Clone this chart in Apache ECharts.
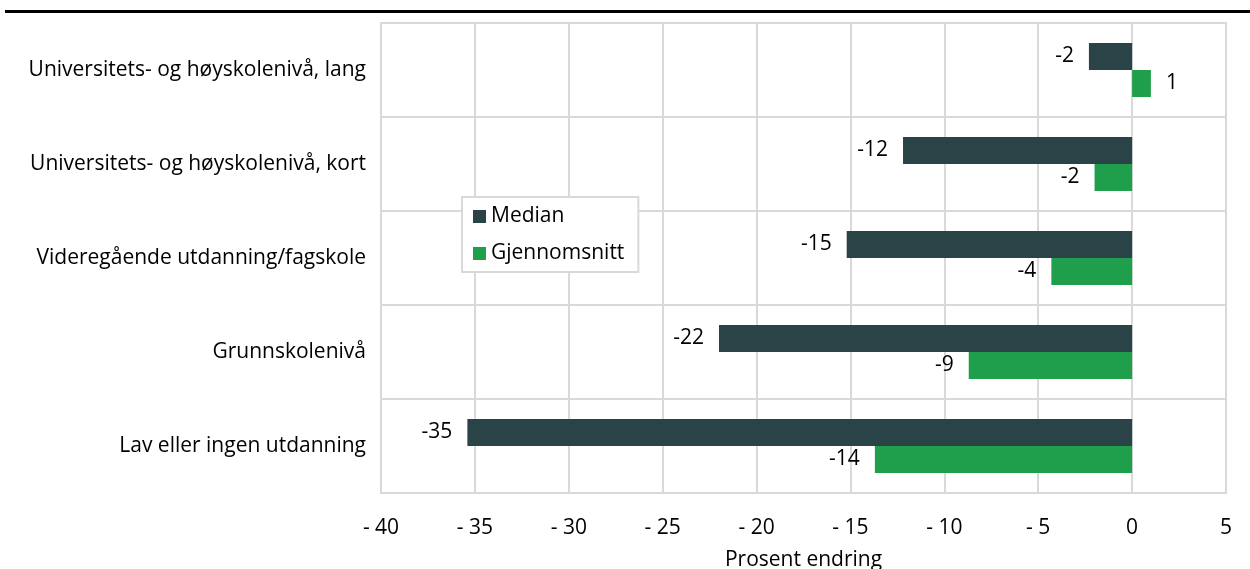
<!DOCTYPE html>
<html>
<head>
<meta charset="utf-8">
<script src="https://cdn.jsdelivr.net/npm/echarts@6/dist/echarts.min.js"></script>
<style>
  html, body { margin: 0; padding: 0; background: #ffffff; }
  #chart { width: 1250px; height: 569px; }
</style>
</head>
<body>
<div id="chart"></div>
<script>
// Education levels, top to bottom
const categories = [
  'Universitets- og høyskolenivå, lang',
  'Universitets- og høyskolenivå, kort',
  'Videregående utdanning/fagskole',
  'Grunnskolenivå',
  'Lav eller ingen utdanning'
];

// Percent change per education level
const medianValues = [-2.3, -12.2, -15.2, -22.0, -35.4];
const meanValues = [1.0, -2.0, -4.3, -8.7, -13.7];

const seriesNames = ['Median', 'Gjennomsnitt'];
const xTicks = { min: -40, max: 5, interval: 5 };
const axisTitle = 'Prosent endring';

const FONT = '"Open Sans", "Noto Sans", sans-serif';
const FONT_SIZE = 21;
const GRID_COLOR = '#d9d9d9';
const COLORS = ['#294347', '#1f9f4b'];

// Put each value label outside the bar end, on the side the bar points to
function withLabels(values) {
  return values.map(v => ({
    value: v,
    label: { position: v < 0 ? 'left' : 'right' }
  }));
}

function barSeries(name, values, color) {
  return {
    name: name,
    type: 'bar',
    data: withLabels(values),
    barWidth: 27,
    barGap: '0%',
    itemStyle: { color: color },
    label: {
      show: true,
      distance: 15,
      color: '#000000',
      fontFamily: FONT,
      fontSize: FONT_SIZE,
      formatter: p => String(Math.round(p.value))
    },
    z: 3
  };
}

const chart = echarts.init(document.getElementById('chart'), null, { renderer: 'canvas' });

chart.setOption({
  animation: false,
  backgroundColor: '#ffffff',
  textStyle: { fontFamily: FONT },
  grid: {
    left: 381, right: 24, top: 23, bottom: 76,
    show: true,
    borderColor: GRID_COLOR,
    borderWidth: 2,
    containLabel: false,
    outerBoundsMode: 'none'
  },
  legend: {
    data: seriesNames,
    orient: 'vertical',
    left: 462,
    top: 197,
    padding: [9, 14, 8, 11],
    itemGap: 16,
    itemWidth: 13,
    itemHeight: 13,
    icon: 'rect',
    backgroundColor: '#ffffff',
    borderColor: GRID_COLOR,
    borderWidth: 2,
    textStyle: { fontFamily: FONT, fontSize: FONT_SIZE, color: '#000000' }
  },
  xAxis: {
    type: 'value',
    min: xTicks.min,
    max: xTicks.max,
    interval: xTicks.interval,
    name: axisTitle,
    nameLocation: 'middle',
    nameGap: 57,
    nameTextStyle: { fontFamily: FONT, fontSize: FONT_SIZE, color: '#000000' },
    axisLine: { show: false },
    axisTick: { show: false },
    axisLabel: {
      margin: 25,
      fontFamily: FONT,
      fontSize: FONT_SIZE,
      color: '#000000',
      formatter: v => (v < 0 ? '- ' + Math.abs(v) : String(v))
    },
    splitLine: { show: true, lineStyle: { color: GRID_COLOR, width: 2 } }
  },
  yAxis: {
    type: 'category',
    data: categories,
    inverse: true,
    axisLine: { show: false },
    axisTick: { show: false },
    axisLabel: {
      margin: 15,
      fontFamily: FONT,
      fontSize: FONT_SIZE,
      color: '#000000'
    },
    splitLine: { show: true, lineStyle: { color: GRID_COLOR, width: 2 } }
  },
  series: [
    barSeries(seriesNames[0], medianValues, COLORS[0]),
    barSeries(seriesNames[1], meanValues, COLORS[1])
  ],
  graphic: [
    {
      type: 'rect',
      left: 5,
      top: 10,
      shape: { width: 1245, height: 3 },
      style: { fill: '#000000' },
      z: 10
    }
  ]
});
</script>
</body>
</html>
